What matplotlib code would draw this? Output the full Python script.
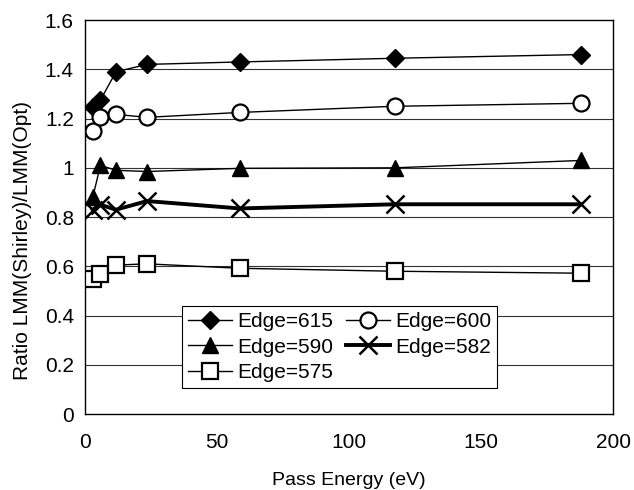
import matplotlib
matplotlib.use("Agg")
import matplotlib.pyplot as plt

plt.rcParams['font.family'] = ['Liberation Sans', 'DejaVu Sans']

pass_energy = [2.95, 5.85, 11.75, 23.5, 58.7, 117.4, 187.85]
edge_615 = [1.245, 1.275, 1.39, 1.42, 1.43, 1.445, 1.46]
edge_600 = [1.15, 1.205, 1.217, 1.205, 1.225, 1.25, 1.262]
edge_590 = [0.88, 1.01, 0.99, 0.985, 0.998, 1.0, 1.03]
edge_582 = [0.83, 0.85, 0.83, 0.865, 0.835, 0.852, 0.852]
edge_575 = [0.55, 0.57, 0.605, 0.61, 0.592, 0.58, 0.572]

x_ticks = [0, 50, 100, 150, 200]
y_ticks = [0, 0.2, 0.4, 0.6, 0.8, 1, 1.2, 1.4, 1.6]
y_tick_labels = ["0", "0.2", "0.4", "0.6", "0.8", "1", "1.2", "1.4", "1.6"]

fig = plt.figure(figsize=(6.34, 4.9), dpi=100)
ax = fig.add_axes([0.134, 0.155, 0.833, 0.804])

for yv in y_ticks[1:-1]:
    ax.axhline(yv, color='#333333', lw=0.8, zorder=1)

ax.plot(pass_energy, edge_615, color='black', lw=1, marker='D', ms=9,
        mfc='black', mec='black', label='Edge=615', zorder=3)
ax.plot(pass_energy, edge_590, color='black', lw=1, marker='^', ms=11,
        mfc='black', mec='black', label='Edge=590', zorder=3)
ax.plot(pass_energy, edge_575, color='black', lw=1, marker='s', ms=11,
        mfc='white', mec='black', mew=1.6, label='Edge=575', zorder=3)
ax.plot(pass_energy, edge_600, color='black', lw=1, marker='o', ms=11.5,
        mfc='white', mec='black', mew=1.6, label='Edge=600', zorder=3)
ax.plot(pass_energy, edge_582, color='black', lw=2.8, marker='x', ms=13,
        mec='black', mew=1.8, label='Edge=582', zorder=3)

ax.set_xlim(0, 200)
ax.set_ylim(0, 1.6)
ax.set_xticks(x_ticks)
ax.set_yticks(y_ticks)
ax.set_yticklabels(y_tick_labels)
ax.tick_params(axis='both', length=0, labelsize=15)
ax.tick_params(axis='x', pad=14)
ax.tick_params(axis='y', pad=8)
for s in ax.spines.values():
    s.set_color('black')
    s.set_linewidth(1)

ax.set_xlabel('Pass Energy (eV)', fontsize=14, labelpad=14)
ax.set_ylabel('Ratio LMM(Shirley)/LMM(Opt)', fontsize=15, labelpad=6)
ax.yaxis.set_label_coords(-0.1, 0.44)

leg = ax.legend(ncol=2, loc='lower left', bbox_to_anchor=(0.184, 0.066),
                fontsize=15, frameon=True, fancybox=False, edgecolor='black',
                framealpha=1, borderpad=0.3, labelspacing=0.3, handlelength=2.1,
                handletextpad=0.25, columnspacing=0.6, borderaxespad=0)
leg.get_frame().set_linewidth(0.8)

fig.savefig('out.png', dpi=100)
